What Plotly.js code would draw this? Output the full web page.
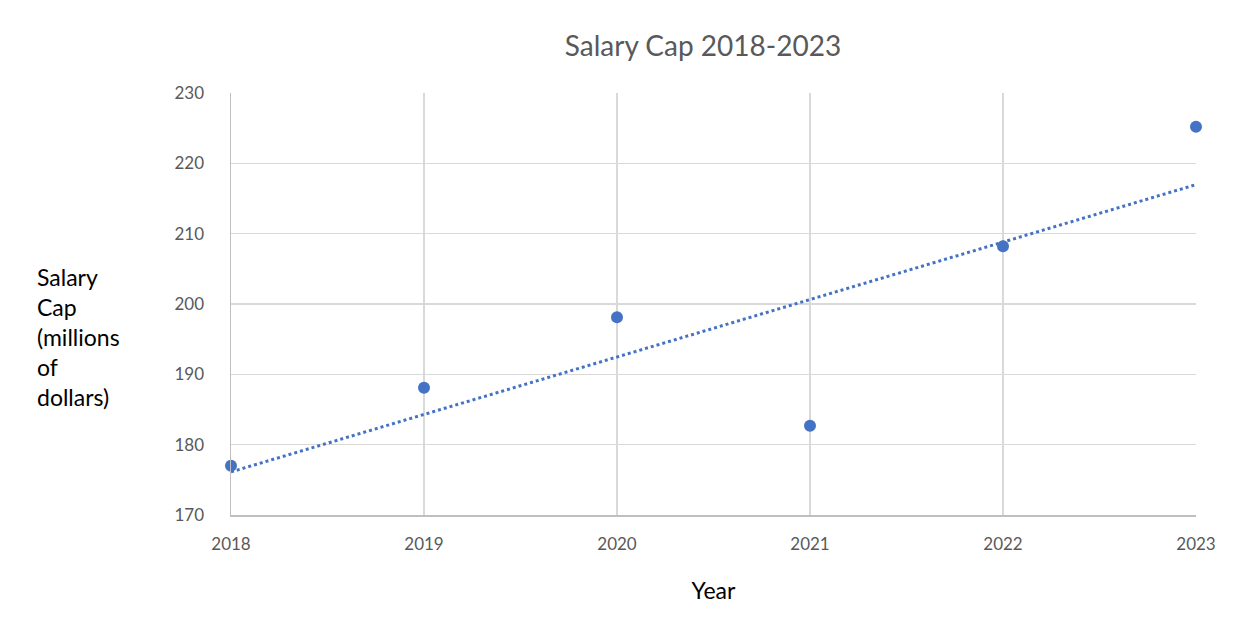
<!DOCTYPE html>
<html>
<head>
<meta charset="utf-8">
<script src="https://cdn.plot.ly/plotly-3.0.1.min.js"></script>
<style>html,body{margin:0;padding:0;background:#fff;}#chart{width:1246px;height:628px;}</style>
</head>
<body>
<div id="chart"></div>
<script>
const years = [2018, 2019, 2020, 2021, 2022, 2023];
const salaryCap = [177.0, 188.1, 198.1, 182.7, 208.2, 225.2];
const yTicks = [170, 180, 190, 200, 210, 220, 230];

// Linear trendline (least squares) computed from the data
const n = years.length;
const mx = years.reduce((a, b) => a + b, 0) / n;
const my = salaryCap.reduce((a, b) => a + b, 0) / n;
let sxy = 0, sxx = 0;
for (let i = 0; i < n; i++) { sxy += (years[i] - mx) * (salaryCap[i] - my); sxx += (years[i] - mx) ** 2; }
const slope = sxy / sxx;
const icpt = my - slope * mx;
const trendX = [years[0], years[n - 1]];
const trendY = trendX.map(x => icpt + slope * x);

const font = "Lato, 'Open Sans', 'Liberation Sans', sans-serif";
const blue = '#4472c4';

const data = [
  { x: trendX, y: trendY, mode: 'lines', type: 'scatter',
    line: { color: blue, width: 3, dash: 'dot' }, hoverinfo: 'skip', showlegend: false, cliponaxis: false },
  { x: years, y: salaryCap, mode: 'markers', type: 'scatter',
    marker: { color: blue, size: 12 }, showlegend: false, cliponaxis: false }
];

const layout = {
  width: 1246, height: 628,
  margin: { l: 231, r: 50, t: 93, b: 113 },
  paper_bgcolor: '#fff', plot_bgcolor: '#fff',
  font: { family: font, color: '#595959' },
  title: { text: 'Salary Cap 2018-2023', font: { family: font, size: 28, color: '#595959' },
           x: 703 / 1246, xref: 'container', xanchor: 'center', y: 1 - 46 / 628, yanchor: 'middle' },
  xaxis: {
    range: [2018, 2023], tickvals: years, ticktext: years.map(String),
    showgrid: true, gridcolor: '#d9d9d9', gridwidth: 1.5,
    showline: true, linecolor: '#bfbfbf', linewidth: 1.5,
    zeroline: false, ticks: '', ticklabelstandoff: 13,
    tickfont: { family: font, size: 17, color: '#595959' },
    title: { text: 'Year', font: { family: font, size: 23, color: '#000' }, standoff: 30 }
  },
  yaxis: {
    range: [170, 230], tickvals: yTicks,
    showgrid: true, gridcolor: '#d9d9d9', gridwidth: 1.5,
    showline: true, linecolor: '#bfbfbf', linewidth: 1.5,
    zeroline: false, ticks: '', ticklabelstandoff: 22,
    tickfont: { family: font, size: 17, color: '#595959' }
  },
  annotations: [{
    text: 'Salary<br>Cap<br>(millions<br>of<br>dollars)',
    xref: 'paper', yref: 'paper', x: (35 - 231) / 965, xanchor: 'left',
    y: (515 - 337) / 422, yanchor: 'middle', align: 'left', showarrow: false,
    font: { family: font, size: 23, color: '#000' }
  }],
  showlegend: false
};

Plotly.newPlot('chart', data, layout, { displayModeBar: false, staticPlot: true });
</script>
</body>
</html>
